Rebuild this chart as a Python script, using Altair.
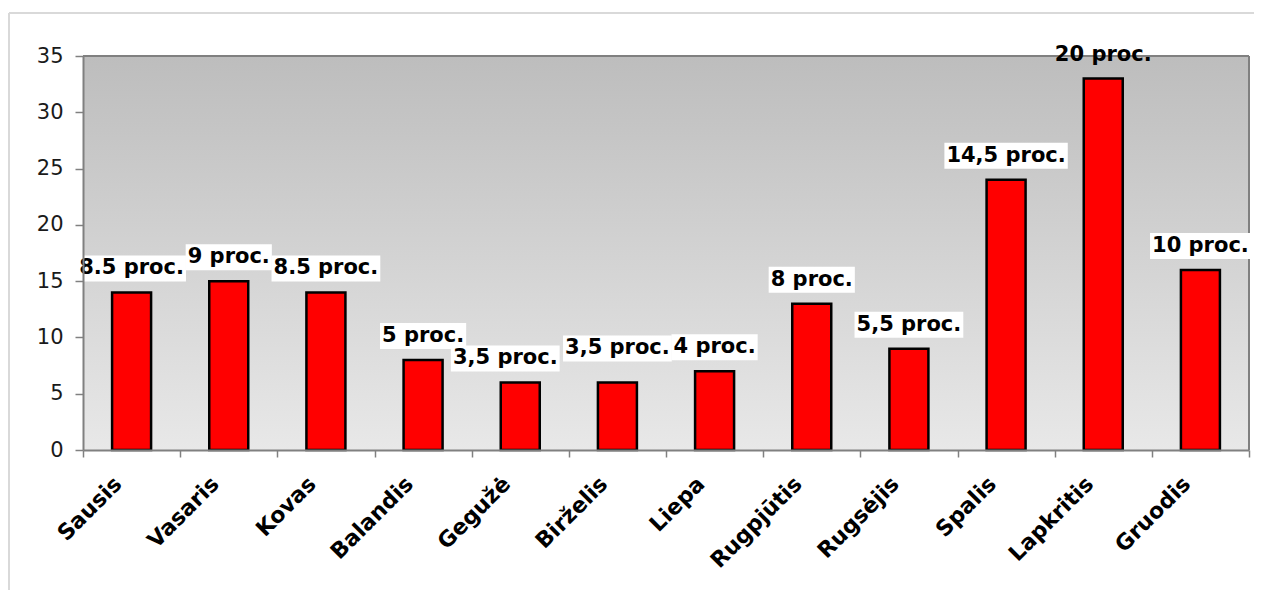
import altair as alt
import pandas as pd

months = ["Sausis", "Vasaris", "Kovas", "Balandis", "Gegužė", "Birželis",
          "Liepa", "Rugpjūtis", "Rugsėjis", "Spalis", "Lapkritis", "Gruodis"]
values = [14, 15, 14, 8, 6, 6, 7, 13, 9, 24, 33, 16]
pct = ["8.5", "9", "8.5", "5", "3,5", "3,5", "4", "8", "5,5", "14,5", "20", "10"]
y_ticks = [0, 5, 10, 15, 20, 25, 30, 35]

W, H = 1166, 394
FONT = "DejaVu Sans"
LBL = 21
BAND = W / len(months)
PXU = H / 35.0  # pixels per unit

df = pd.DataFrame({"month": months, "value": values, "pct": pct})

xscale = alt.Scale(domain=months, paddingInner=0, paddingOuter=0)
yscale = alt.Scale(domain=[0, 35], nice=False)

x_enc = alt.X("month:N", scale=xscale, sort=months, title=None,
              axis=alt.Axis(labelAngle=-45, labelAlign="right", labelBaseline="middle",
                            labelFont=FONT, labelFontSize=22, labelFontWeight="bold",
                            labelColor="#000000", labelOffset=-14, labelPadding=23,
                            tickBand="extent", tickSize=7, tickColor="#808080", tickWidth=1.5,
                            domainColor="#808080", domainWidth=2, zindex=1, labelLimit=300))
y_enc = alt.Y("value:Q", scale=yscale, title=None,
              axis=alt.Axis(values=y_ticks, labelFont=FONT, labelFontSize=21,
                            labelColor="#1a1a1a", labelPadding=12, tickSize=8,
                            tickColor="#808080", tickWidth=1.5, domainColor="#808080",
                            domainWidth=2, grid=False, zindex=1))

one = pd.DataFrame({"a": [0]})

bg = alt.Chart(one).mark_rect(
    color=alt.Gradient(gradient="linear",
                       stops=[alt.GradientStop(color="#bdbdbd", offset=0),
                              alt.GradientStop(color="#e8e8e8", offset=1)],
                       x1=0, x2=0, y1=0, y2=1)
).encode(x=alt.value(0), x2=alt.value(W), y=alt.value(0), y2=alt.value(H))

frame_top = alt.Chart(one).mark_rule(color="#d9d9d9", strokeWidth=2).encode(
    x=alt.value(-74), x2=alt.value(W + 40), y=alt.value(-43))
frame_left = alt.Chart(one).mark_rule(color="#d9d9d9", strokeWidth=2).encode(
    x=alt.value(-74), y=alt.value(-43), y2=alt.value(H + 300))

border_top = alt.Chart(one).mark_rule(color="#808080", strokeWidth=2).encode(
    x=alt.value(0), x2=alt.value(W), y=alt.value(0))
border_right = alt.Chart(one).mark_rule(color="#808080", strokeWidth=2).encode(
    x=alt.value(W), y=alt.value(0), y2=alt.value(H))

base = alt.Chart(df)

bars = base.mark_bar(size=39, color="#ff0000", stroke="#000000", strokeWidth=2.5).encode(
    x=x_enc, y=y_enc)

# Label placement: a label whose right neighbour has the same height moves left,
# a label whose left neighbour has the same height moves up (avoids collisions).
lab = base.transform_window(
    prev="lag(value)", nxt="lead(value)"
).transform_calculate(
    label="datum.pct + ' proc.'",
    nd="length(replace(datum.pct, regexp('[.,]', 'g'), ''))",
    sx=f"({BAND / 2}) + (datum.nxt == datum.value ? -15 : 0)",
    sy="datum.prev == datum.value ? 10 : 0",
).transform_calculate(
    boxw=f"{LBL}*(0.696*datum.nd + 0.38*(length(datum.pct)-datum.nd) + 3.217) + 4",
    ly=f"datum.value + (24 + datum.sy) / {PXU}",
    yb0=f"datum.value + (11 + datum.sy) / {PXU}",
    yb1=f"datum.value + (37 + datum.sy) / {PXU}",
)

boxes = lab.transform_filter("datum.month != 'Lapkritis'").mark_rule(
    color="#ffffff", strokeCap="butt").encode(
    x=alt.X("month:N", scale=xscale, sort=months),
    xOffset=alt.XOffset("sx:Q", scale=None),
    y=alt.Y("yb0:Q", scale=yscale),
    y2=alt.Y2("yb1"),
    strokeWidth=alt.StrokeWidth("boxw:Q", scale=None, legend=None))

texts = lab.mark_text(font=FONT, fontSize=LBL, fontWeight="bold", color="#000000",
                      baseline="middle", align="center").encode(
    x=alt.X("month:N", scale=xscale, sort=months),
    xOffset=alt.XOffset("sx:Q", scale=None),
    y=alt.Y("ly:Q", scale=yscale),
    text="label:N")

chart = alt.layer(bg, frame_top, frame_left, border_top, border_right, bars, boxes, texts).properties(
    width=W, height=H,
    autosize=alt.AutoSizeParams(type="none"),
    padding={"left": 75, "top": 48, "right": 5, "bottom": 140},
    background="#ffffff"
).configure_view(stroke=None)

chart.save("out.html", embed_options={"renderer": "svg", "actions": False})
